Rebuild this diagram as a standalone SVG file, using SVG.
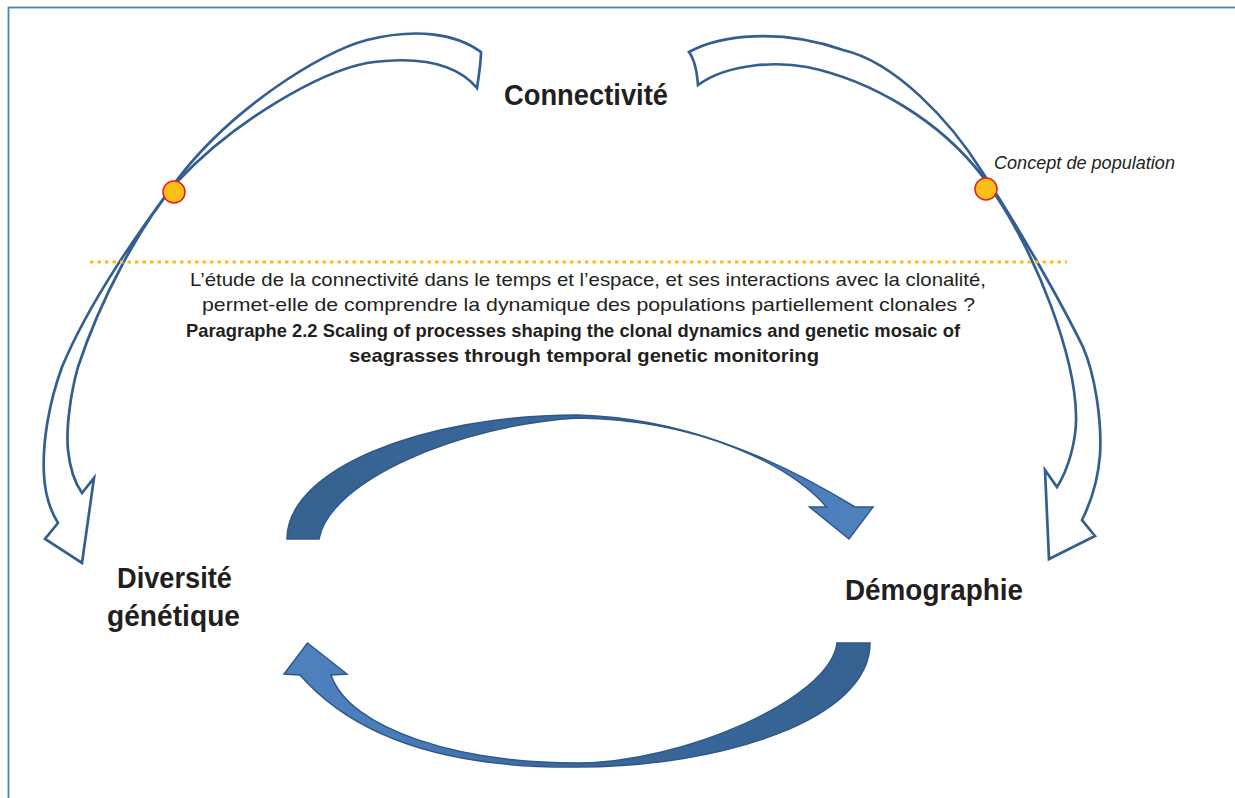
<svg xmlns="http://www.w3.org/2000/svg" width="1235" height="798" viewBox="0 0 1235 798">
  <style>
    .lbl { font-family: "Liberation Sans", Arial, sans-serif; fill: #231f20; }
    .head { font-size: 29px; font-weight: bold; }
    .body { font-size: 19px; }
    .bold { font-weight: bold; }
    .outline { fill: #ffffff; stroke: #325f8f; stroke-width: 2.7; stroke-linejoin: miter; }
    .solid { stroke: #2f5889; stroke-width: 1.5; stroke-linejoin: miter; }
    .dot { fill: #fcbf17; stroke: #e62129; stroke-width: 1.6; }
  </style>
  <defs>
    <linearGradient id="gTop" x1="0" y1="0" x2="1" y2="0">
      <stop offset="0" stop-color="#35628f"/>
      <stop offset="0.55" stop-color="#3a69a0"/>
      <stop offset="0.8" stop-color="#4a7cba"/>
      <stop offset="1" stop-color="#4f81bd"/>
    </linearGradient>
    <linearGradient id="gBot" x1="1" y1="0" x2="0" y2="0">
      <stop offset="0" stop-color="#35628f"/>
      <stop offset="0.55" stop-color="#3a69a0"/>
      <stop offset="0.8" stop-color="#4a7cba"/>
      <stop offset="1" stop-color="#4f81bd"/>
    </linearGradient>
  </defs>

  <rect id="frame" x="8.5" y="7.5" width="1240" height="800" fill="#ffffff" stroke="#4f81bd" stroke-width="1.8"/>

  <g id="connectors">
    <path id="arrow-left" class="outline" d="M481,52 C455,33 415,28 367,40 C320,52 230,110 177,180 C140,230 90,300 62,367 C50,400 42,440 44,475 C45,495 50,510 58,523 L45,539 L82,563 L94,478 L82,493 C75,483 70,470 68,450 C66,430 70,395 78,367 C100,300 140,225 177,182 C235,120 320,72 367,63 C415,56 455,62 477,88 C479,75 481,62 481,52 Z"/>
    <path id="arrow-right" class="outline" d="M689,52 C720,35 780,28 843,50 C895,62 950,120 983,173 C1020,230 1060,300 1083,347 C1095,375 1102,420 1100,455 C1098,480 1092,500 1082,520 L1095,536 L1049,559 L1045,470 L1057,487 C1068,470 1077,440 1076,415 C1075,360 1040,255 983,177 C940,120 870,80 807,67 C780,62 730,62 698,85 C697,72 695,60 689,52 Z"/>
    <path id="arrow-top" class="solid" fill="url(#gTop)" d="M287,539 C287,470 420,415 578,415 C680,418 770,455 855,507 L873,507 L849,539 L809.5,507 L826.5,507 C790,465 700,420 578,418 C460,425 330,480 319,539 Z"/>
    <path id="arrow-bottom" class="solid" fill="url(#gBot)" d="M870,643 C870,720 720,767 578,767 C490,768 370,755 300,675 L284,674 L307.5,643 L347,674 L331,675 C350,730 460,763 578,763 C680,763 830,700 837,643 Z"/>
  </g>

  <line id="separator" x1="90" y1="262" x2="1067" y2="262" stroke="#fbbd18" stroke-width="3" stroke-dasharray="3.5 4"/>

  <g id="dot-left"><circle class="dot" cx="174" cy="192" r="11"/></g>
  <g id="dot-right"><circle class="dot" cx="986" cy="189" r="11"/></g>

  <g id="node-connectivite">
    <text class="lbl head" x="504" y="105" textLength="164" lengthAdjust="spacingAndGlyphs">Connectivité</text>
  </g>
  <g id="node-diversite">
    <text class="lbl head" x="117" y="588" textLength="115" lengthAdjust="spacingAndGlyphs">Diversité</text>
    <text class="lbl head" x="107" y="626" textLength="133" lengthAdjust="spacingAndGlyphs">génétique</text>
  </g>
  <g id="node-demographie">
    <text class="lbl head" x="845" y="600" textLength="178" lengthAdjust="spacingAndGlyphs">Démographie</text>
  </g>
  <g id="label-concept">
    <text class="lbl" x="994" y="169" font-size="18.5" font-style="italic" textLength="181" lengthAdjust="spacingAndGlyphs">Concept de population</text>
  </g>
  <g id="question">
    <text class="lbl body" x="190" y="286" textLength="796" lengthAdjust="spacingAndGlyphs">L’étude de la connectivité dans le temps et l’espace, et ses interactions avec la clonalité,</text>
    <text class="lbl body" x="202" y="311" textLength="773" lengthAdjust="spacingAndGlyphs">permet-elle de comprendre la dynamique des populations partiellement clonales ?</text>
    <text class="lbl body bold" x="186" y="337" textLength="774" lengthAdjust="spacingAndGlyphs">Paragraphe 2.2 Scaling of processes shaping the clonal dynamics and genetic mosaic of</text>
    <text class="lbl body bold" x="349" y="362" textLength="470" lengthAdjust="spacingAndGlyphs">seagrasses through temporal genetic monitoring</text>
  </g>
</svg>
